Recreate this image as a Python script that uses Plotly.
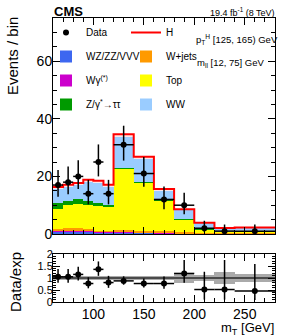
import numpy as np
import plotly.graph_objects as go

# ---------------- data ----------------
edges = [60, 70, 80, 90, 100, 110, 120, 140, 160, 180, 200, 220, 240, 280]

vvv   = [0.7, 0.8, 0.8, 0.7, 0.5, 0.5, 0.5, 0.4, 0.3, 0.2, 0.1, 0.1, 0.1]
wgam  = [0.2, 0.3, 0.3, 0.2, 0.2, 0.2, 0.2, 0.2, 0.1, 0.1, 0.05, 0.05, 0.05]
wjets = [0.7, 1.0, 0.9, 0.8, 0.5, 0.4, 0.7, 0.6, 0.5, 0.4, 0.3, 0.3, 0.3]
top   = [7.0, 8.0, 8.5, 8.4, 8.7, 8.4, 21.3, 16.6, 10.9, 4.4, 1.2, 0.35, 0.35]
ztt   = [2.1, 1.5, 1.6, 1.2, 1.0, 0.7, 0.2, 0.3, 0.2, 0.1, 0.05, 0.02, 0.02]
ww    = [4.8, 4.7, 4.8, 6.7, 6.8, 6.2, 10.8, 7.9, 3.1, 3.1, 2.05, 1.15, 1.3]
higgs = [0.8, 0.8, 0.8, 0.8, 0.8, 0.7, 0.9, 0.8, 0.5, 0.3, 0.2, 0.15, 0.15]

data       = [17, 18, 20, 14, 25, 14, 31, 21, 12, 10, 2, 1, 1]
data_up    = [5.2, 5.4, 5.6, 4.8, 6.1, 4.8, 6.6, 5.7, 4.5, 4.3, 2.6, 2.3, 2.3]
data_dn    = [4.1, 4.2, 4.4, 3.7, 5.0, 3.7, 5.5, 4.6, 3.4, 3.1, 1.3, 0.8, 0.8]

ratio      = [1.05, 1.05, 1.15, 0.77, 1.36, 0.81, 0.88, 0.77, 0.77, 1.19, 0.52, 0.52, 0.46]
ratio_up   = [0.32, 0.32, 0.32, 0.26, 0.33, 0.28, 0.19, 0.21, 0.29, 0.56, 0.74, 1.23, 1.12]
ratio_dn   = [0.25, 0.25, 0.25, 0.20, 0.27, 0.22, 0.16, 0.17, 0.22, 0.39, 0.42, 0.42, 0.38]
band_unc   = [0.09, 0.09, 0.09, 0.09, 0.09, 0.09, 0.08, 0.08, 0.09, 0.2, 0.13, 0.27, 0.18]

# ---------------- derived ----------------
e = np.array(edges, dtype=float)
centers = 0.5 * (e[:-1] + e[1:])
widths = e[1:] - e[:-1]
halfw = widths / 2
total = np.array(vvv) + np.array(wgam) + np.array(wjets) + np.array(top) + np.array(ztt) + np.array(ww) + np.array(higgs)
band = np.array(band_unc)

FONT = "Liberation Sans, Arial, sans-serif"

fig = go.Figure()

stack = [
    ("WZ/ZZ/VVV", vvv, "#3d67f0", "legend", 2),
    ("Wγ<sup>(*)</sup>", wgam, "#cc00cc", "legend", 3),
    ("W+jets", wjets, "#ff9a00", "legend2", 2),
    ("Top", top, "#ffff00", "legend2", 3),
    ("Z/γ<sup>*</sup>→ττ", ztt, "#009a00", "legend", 4),
    ("WW", ww, "#9accff", "legend2", 4),
]
for name, vals, col, leg, rank in stack:
    fig.add_trace(go.Bar(
        x=centers, y=vals, width=widths, name=name,
        marker=dict(color=col, line=dict(width=0)),
        legend=leg, legendrank=rank, legendgroup=name,
        xaxis="x", yaxis="y",
    ))

# Higgs on top: light fill + red step outline
fig.add_trace(go.Bar(
    x=centers, y=higgs, width=widths, name="H_fill", showlegend=False,
    marker=dict(color="rgba(255,210,210,0.6)", line=dict(width=0)),
    xaxis="x", yaxis="y",
))
fig.add_trace(go.Scatter(
    x=e, y=np.append(total, total[-1]), mode="lines", line_shape="hv",
    line=dict(color="#ff0000", width=2), name="H",
    legend="legend2", legendrank=1, legendgroup="H",
    xaxis="x", yaxis="y",
))

# data points
fig.add_trace(go.Scatter(
    x=centers, y=data, mode="markers", name="Data",
    marker=dict(color="black", size=6),
    error_y=dict(type="data", symmetric=False, array=data_up, arrayminus=data_dn,
                 color="black", thickness=1.5, width=0),
    error_x=dict(type="data", array=halfw, color="black", thickness=1.5, width=0),
    legend="legend", legendrank=1, legendgroup="Data",
    xaxis="x", yaxis="y",
))

# ratio panel
fig.add_trace(go.Bar(
    x=centers, y=2 * band, base=1 - band, width=widths, showlegend=False,
    marker=dict(color="#aaaaaa", line=dict(width=0)),
    xaxis="x2", yaxis="y2",
))
fig.add_trace(go.Scatter(
    x=[edges[0], edges[-1]], y=[1, 1], mode="lines", showlegend=False,
    line=dict(color="#4a4a4a", width=2), xaxis="x2", yaxis="y2",
))
fig.add_trace(go.Scatter(
    x=centers, y=ratio, mode="markers", showlegend=False,
    marker=dict(color="black", size=6),
    error_y=dict(type="data", symmetric=False, array=ratio_up, arrayminus=ratio_dn,
                 color="black", thickness=1.5, width=0),
    error_x=dict(type="data", array=halfw, color="black", thickness=1.5, width=0),
    xaxis="x2", yaxis="y2",
))


def axis_common(size):
    return dict(
        showline=True, linecolor="black", linewidth=1, mirror="allticks",
        ticks="inside", ticklen=7, tickwidth=1, tickcolor="black",
        showgrid=False, zeroline=False,
        tickfont=dict(family=FONT, size=size, color="black"),
    )


fig.update_layout(
    width=291, height=336,
    margin=dict(l=53, r=16, t=18, b=34, autoexpand=False),
    paper_bgcolor="white", plot_bgcolor="white",
    barmode="stack", bargap=0,
    font=dict(family=FONT, color="black"),
    xaxis=dict(range=[60, 280], domain=[0, 1], anchor="y", showticklabels=False,
               dtick=50, tick0=0,
               minor=dict(dtick=10, ticks="inside", ticklen=4, tickcolor="black"),
               **axis_common(14)),
    yaxis=dict(range=[0, 75], domain=[0.2394, 1], anchor="x", dtick=20,
               ticklabelstandoff=-3,
               minor=dict(dtick=5, ticks="inside", ticklen=4, tickcolor="black"),
               **axis_common(14)),
    xaxis2=dict(range=[60, 280], domain=[0, 1], anchor="y2", matches="x",
                dtick=50, tick0=0, ticklabelstandoff=-1,
                minor=dict(dtick=10, ticks="inside", ticklen=4, tickcolor="black"),
                **axis_common(14)),
    yaxis2=dict(range=[0, 2], domain=[0, 0.169], anchor="x2", dtick=0.5,
                ticklabelstandoff=-3,
                minor=dict(dtick=0.1, ticks="inside", ticklen=3, tickcolor="black"),
                **axis_common(11)),
    legend=dict(x=-0.0315, y=1.0, xanchor="left", yanchor="top",
                bgcolor="rgba(0,0,0,0)", borderwidth=0, tracegroupgap=5,
                font=dict(family=FONT, size=10, color="black"), traceorder="grouped"),
    legend2=dict(x=0.3288, y=1.0, xanchor="left", yanchor="top",
                 bgcolor="rgba(0,0,0,0)", borderwidth=0, tracegroupgap=5,
                 font=dict(family=FONT, size=10, color="black"), traceorder="grouped"),
    showlegend=True,
)

ann = [
    dict(text="<b>CMS</b>", x=-0.004, y=1.0246, xanchor="left", yanchor="middle",
         font=dict(size=13)),
    dict(text="19.4 fb<sup>-1</sup> (8 TeV)", x=1.009, y=1.021, xanchor="right",
         yanchor="middle", font=dict(size=9)),
    dict(text="p<sub>T</sub><sup>H</sup> [125, 165) GeV", x=0.637, y=0.926,
         xanchor="left", yanchor="middle", font=dict(size=9.5)),
    dict(text="m<sub>ll</sub> [12, 75] GeV", x=0.64, y=0.8415,
         xanchor="left", yanchor="middle", font=dict(size=9.5)),
    dict(text="Events / bin", x=-0.1847, y=0.866, textangle=-90,
         xanchor="center", yanchor="middle", font=dict(size=15)),
    dict(text="Data/exp", x=-0.171, y=0.0704, textangle=-90,
         xanchor="center", yanchor="middle", font=dict(size=15)),
    dict(text="m<sub>T</sub> [GeV]", x=1.0045, y=-0.0945, xanchor="right",
         yanchor="middle", font=dict(size=13)),
]
for a in ann:
    a.update(xref="paper", yref="paper", showarrow=False)
    a["font"] = dict(family=FONT, color="black", **a["font"])
fig.update_layout(annotations=ann)

# remove the default 8px page margin so the figure fills the window exactly
fig.write_html("out.html", config={"displayModeBar": False},
               post_script="document.body.style.margin='0px';")
